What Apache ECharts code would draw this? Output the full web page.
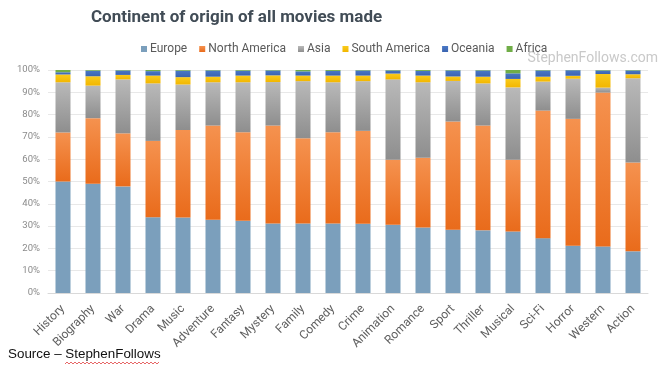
<!DOCTYPE html>
<html>
<head>
<meta charset="utf-8">
<script src="https://cdn.jsdelivr.net/npm/echarts@6/dist/echarts.min.js"></script>
<style>
  html, body { margin: 0; padding: 0; background: #fff; }
  #chart { width: 669px; height: 376px; }
</style>
</head>
<body>
<div id="chart"></div>
<script>
// genres, in the order shown
const genres = ['History', 'Biography', 'War', 'Drama', 'Music', 'Adventure', 'Fantasy', 'Mystery', 'Family', 'Comedy',
  'Crime', 'Animation', 'Romance', 'Sport', 'Thriller', 'Musical', 'Sci-Fi', 'Horror', 'Western', 'Action']

// share of movies per continent (%)
const europe = [50.0, 49.0, 47.8, 34.0, 33.9, 32.8, 32.4, 31.2, 31.2, 31.2, 31.0, 30.6, 29.4, 28.4, 28.1, 27.6, 24.6, 21.2, 20.9, 18.7]
const northAmerica = [22.0, 29.4, 23.8, 34.2, 39.2, 42.3, 39.7, 43.9, 38.2, 40.9, 41.7, 29.1, 31.3, 48.5, 47.0, 32.1, 57.2, 56.9, 69.0, 39.8]
const asia = [22.5, 14.6, 24.2, 25.8, 20.4, 19.4, 22.4, 19.5, 25.6, 22.4, 22.3, 36.1, 33.8, 18.2, 18.9, 32.5, 13.0, 18.0, 2.2, 37.8]
const southAmerica = [3.5, 4.2, 2.0, 3.5, 3.3, 2.5, 3.0, 3.0, 2.5, 3.0, 2.5, 2.6, 3.0, 2.0, 3.0, 3.8, 2.2, 1.3, 6.1, 1.8]
const oceania = [1.0, 2.5, 2.0, 2.0, 2.9, 2.8, 2.2, 2.2, 1.9, 2.1, 2.3, 1.4, 2.1, 2.7, 2.8, 2.5, 2.8, 2.5, 1.6, 1.7]
const africa = [1.0, 0.3, 0.2, 0.5, 0.3, 0.2, 0.3, 0.2, 0.6, 0.4, 0.2, 0.2, 0.4, 0.2, 0.2, 1.5, 0.2, 0.1, 0.2, 0.2]

const font = 'Roboto, sans-serif'

// vertical gradient like the excel bars
function grad (top, bottom) {
  return new echarts.graphic.LinearGradient(0, 0, 0, 1, [
    { offset: 0, color: top },
    { offset: 1, color: bottom }
  ])
}

function bar (name, data, color, top, bottom) {
  return {
    name: name,
    type: 'bar',
    stack: 'total',
    barWidth: '50%',
    data: data,
    itemStyle: { color: top ? grad(top, bottom) : color },
    color: color
  }
}

// red spellcheck squiggle under "StephenFollows"
let squiggle = []
for (let x = 65; x <= 160; x += 2) {
  squiggle.push([x, (x - 65) % 4 === 0 ? 364 : 362])
}

const chart = echarts.init(document.getElementById('chart'))
chart.setOption({
  animation: false,
  title: {
    text: 'Continent of origin of all movies made',
    left: 86,
    top: 4,
    textStyle: { fontFamily: font, fontSize: 17, fontWeight: 'bold', color: '#414c56' }
  },
  legend: {
    left: 136,
    top: 38,
    itemWidth: 6,
    itemHeight: 6,
    itemGap: 12,
    icon: 'rect',
    textStyle: { fontFamily: font, fontSize: 12, color: '#595959', padding: [0, 0, 0, -2] }
  },
  grid: { left: 48, right: 21, top: 70, bottom: 83 },
  xAxis: {
    type: 'category',
    data: genres,
    axisLine: { lineStyle: { color: '#d9d9d9' } },
    axisTick: { show: false },
    axisLabel: { interval: 0, rotate: 45, fontFamily: font, fontSize: 12, color: '#606060', margin: 14 }
  },
  yAxis: {
    type: 'value',
    min: 0,
    max: 100,
    interval: 10,
    axisLabel: { formatter: '{value}%', fontFamily: font, fontSize: 9.5, color: '#8a8a8a', margin: 8 },
    splitLine: { lineStyle: { color: '#e8e8e8' } }
  },
  series: [
    bar('Europe', europe, '#7b9fbc'),
    bar('North America', northAmerica, '#ef7d32', '#f5924f', '#e96b1b'),
    bar('Asia', asia, '#a5a5a5', '#b9b9b9', '#8e8e8e'),
    bar('South America', southAmerica, '#f7c300', '#f9cb1c', '#f2b600'),
    bar('Oceania', oceania, '#4472c4', '#4a78c6', '#3a64b0'),
    bar('Africa', africa, '#70ad47')
  ],
  graphic: [
    {
      type: 'text',
      right: 11,
      top: 51,
      style: { text: 'StephenFollows.com', fontFamily: font, fontSize: 14, fill: '#c9c9c9' }
    },
    {
      type: 'text',
      left: 8,
      top: 348,
      style: { text: 'Source \u2013 StephenFollows', fontFamily: "'Liberation Sans', Arial, sans-serif", fontSize: 13.4, fill: '#111' }
    },
    {
      type: 'polyline',
      shape: { points: squiggle },
      style: { stroke: '#e04040', lineWidth: 0.8, fill: null }
    }
  ]
})
</script>
</body>
</html>
